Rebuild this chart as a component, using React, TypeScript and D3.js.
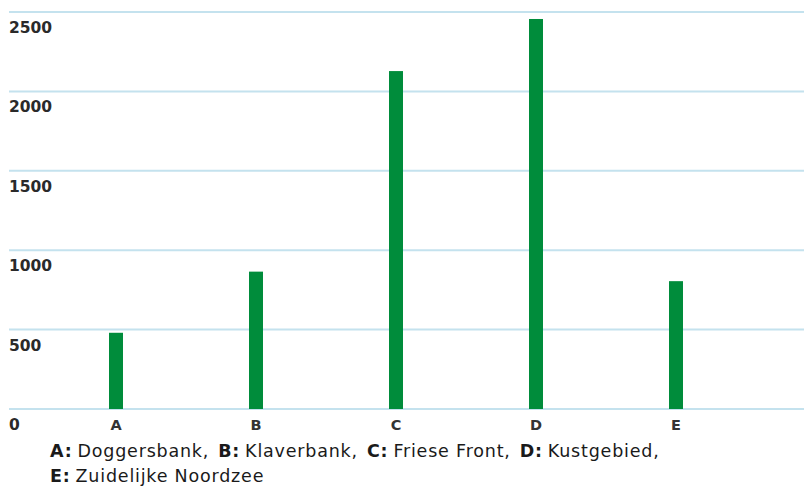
import React from "react";
import * as d3 from "d3";

const categories = ["A", "B", "C", "D", "E"];
const values = [480, 865, 2128, 2456, 805];
const yTicks = [0, 500, 1000, 1500, 2000, 2500];
const legendLine1 = [
  { key: "A:", name: "Doggersbank," },
  { key: "B:", name: "Klaverbank," },
  { key: "C:", name: "Friese Front," },
  { key: "D:", name: "Kustgebied," },
];
const legendLine2 = [{ key: "E:", name: "Zuidelijke Noordzee" }];

const W = 804;
const H = 488;

export default function App() {
  const x = d3.scaleBand<string>().domain(categories).range([46, 746]).padding(0);
  const y = d3.scaleLinear().domain([0, 2500]).range([409, 12]);
  const barW = 14;
  const font = "'DejaVu Sans', Verdana, sans-serif";

  const renderLegend = (items: { key: string; name: string }[], yy: number) => (
    <text x={50} y={yy} fontFamily={font} fontSize={17.5} fill="#1a1a1a" letterSpacing={0.8}>
      {items.map((it, i) => (
        <React.Fragment key={i}>
          <tspan fontWeight="bold" dx={i === 0 ? 0 : 9}>{it.key}</tspan>
          <tspan dx={5}>{it.name}</tspan>
        </React.Fragment>
      ))}
    </text>
  );

  return (
    <svg
      width={W}
      height={H}
      style={{ position: "absolute", left: 0, top: 0, background: "#fff" }}
    >
      {yTicks.map((t) => (
        <g key={t}>
          <line x1={9} x2={W} y1={y(t)} y2={y(t)} stroke="#c4e2ee" strokeWidth={2} />
          <text x={9} y={y(t) + 21} fontFamily={font} fontSize={15.5} fontWeight="bold" fill="#2a2a2a">
            {t}
          </text>
        </g>
      ))}
      {categories.map((c, i) => {
        const cx = (x(c) as number) + x.bandwidth() / 2;
        return (
          <g key={c}>
            <rect x={cx - barW / 2} y={y(values[i])} width={barW} height={y(0) - y(values[i])} fill="#008c3b" />
            <text x={cx} y={y(0) + 21} textAnchor="middle" fontFamily={font} fontSize={14.5} fontWeight="bold" fill="#333">
              {c}
            </text>
          </g>
        );
      })}
      {renderLegend(legendLine1, 457)}
      {renderLegend(legendLine2, 482)}
    </svg>
  );
}
